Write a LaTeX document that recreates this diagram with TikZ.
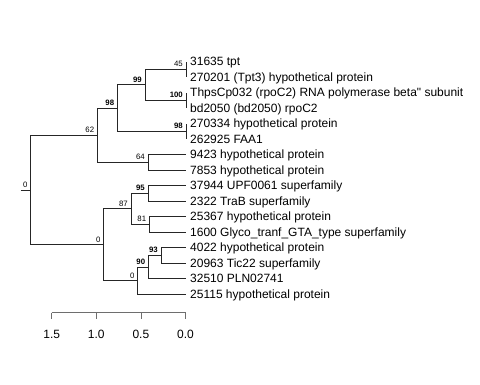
\documentclass[tikz,border=0pt]{standalone}
\usepackage{fontspec}
\setmainfont{Liberation Sans}
\newfontfamily\plainsans{Liberation Sans}
\usetikzlibrary{calc}
\definecolor{treeink}{HTML}{262626}
\definecolor{axisgray}{HTML}{6E6E6E}

\begin{document}
\begin{tikzpicture}[x=1pt,y=-1pt,
  every node/.style={font=\fontsize{12}{14}\selectfont},
  edge/.style={draw=treeink,line width=0.8pt},
  leaf/.style={anchor=west,inner xsep=4pt,inner ysep=0pt,text height=8.6pt,text depth=0pt},
  boot/.style={anchor=south east,inner sep=1pt,xshift=-2pt,yshift=1pt,font=\fontsize{7.8}{8}\selectfont},
  strong/.style={boot,font=\fontsize{7.8}{8}\selectfont\bfseries},
  scaleline/.style={draw=axisgray,line width=0.8pt},
  ticklabel/.style={inner sep=0pt,text height=8.6pt,text depth=0pt}
]
  \useasboundingbox (0,0) rectangle (480,384);
  \coordinate (stub) at (20.7,189.9);
  \coordinate (root) at (30.7,189.9);
  \coordinate (n62) at (97.3,135.1);
  \coordinate (n98) at (117.3,108);
  \coordinate (n99) at (145,84.75);
  \coordinate (n45) at (186,69.25);
  \coordinate (n100) at (186,100.25);
  \coordinate (n98b) at (186,131.25);
  \coordinate (n64) at (148,162.25);
  \coordinate (n0a) at (103.7,244.6);
  \coordinate (n87) at (131,208.75);
  \coordinate (n95) at (148,193.25);
  \coordinate (n81) at (149.3,224.25);
  \coordinate (n0b) at (137.7,280.4);
  \coordinate (n90) at (148.3,266.9);
  \coordinate (n93) at (161,255.25);
  \node[leaf] (l31635) at (186,61.5) {31635 tpt};
  \node[leaf] (l270201) at (186,77) {270201 (Tpt3) hypothetical protein};
  \node[leaf] (lThps) at (186,92.5) {\plainsans ThpsCp032 (rpoC2) RNA polymerase beta" subunit};
  \node[leaf] (lbd2050) at (186,108) {bd2050 (bd2050) rpoC2};
  \node[leaf] (l270334) at (186,123.5) {270334 hypothetical protein};
  \node[leaf] (l262925) at (186,139) {262925 FAA1};
  \node[leaf] (l9423) at (186,154.5) {9423 hypothetical protein};
  \node[leaf] (l7853) at (186,170) {7853 hypothetical protein};
  \node[leaf] (l37944) at (186,185.5) {37944 UPF0061 superfamily};
  \node[leaf] (l2322) at (186,201) {2322 TraB superfamily};
  \node[leaf] (l25367) at (186,216.5) {25367 hypothetical protein};
  \node[leaf] (l1600) at (186,232) {1600 Glyco\_tranf\_GTA\_type superfamily};
  \node[leaf] (l4022) at (186,247.5) {4022 hypothetical protein};
  \node[leaf] (l20963) at (186,263) {20963 Tic22 superfamily};
  \node[leaf] (l32510) at (186,278.5) {32510 PLN02741};
  \node[leaf] (l25115) at (186,294) {25115 hypothetical protein};
  \draw[edge] (stub) -- (root);
  \draw[edge] (root) |- (n62);
  \draw[edge] (root) |- (n0a);
  \draw[edge] (n62) |- (n98);
  \draw[edge] (n62) |- (n64);
  \draw[edge] (n98) |- (n99);
  \draw[edge] (n98) |- (n98b);
  \draw[edge] (n99) |- (n45);
  \draw[edge] (n99) |- (n100);
  \draw[edge] (n45) |- (l31635.west);
  \draw[edge] (n45) |- (l270201.west);
  \draw[edge] (n100) |- (lThps.west);
  \draw[edge] (n100) |- (lbd2050.west);
  \draw[edge] (n98b) |- (l270334.west);
  \draw[edge] (n98b) |- (l262925.west);
  \draw[edge] (n64) |- (l9423.west);
  \draw[edge] (n64) |- (l7853.west);
  \draw[edge] (n0a) |- (n87);
  \draw[edge] (n0a) |- (n0b);
  \draw[edge] (n87) |- (n95);
  \draw[edge] (n87) |- (n81);
  \draw[edge] (n95) |- (l37944.west);
  \draw[edge] (n95) |- (l2322.west);
  \draw[edge] (n81) |- (l25367.west);
  \draw[edge] (n81) |- (l1600.west);
  \draw[edge] (n0b) |- (n90);
  \draw[edge] (n0b) |- (l25115.west);
  \draw[edge] (n90) |- (n93);
  \draw[edge] (n90) |- (l32510.west);
  \draw[edge] (n93) |- (l4022.west);
  \draw[edge] (n93) |- (l20963.west);
  \node[boot] (broot) at (root) {0};
  \node[boot] (b62) at (n62) {62};
  \node[strong] (b98) at (n98) {98};
  \node[strong] (b99) at (n99) {99};
  \node[boot] (b45) at (n45) {45};
  \node[strong] (b100) at (n100) {100};
  \node[strong] (b98b) at (n98b) {98};
  \node[boot] (b64) at (n64) {64};
  \node[boot] (b0a) at (n0a) {0};
  \node[boot] (b87) at (n87) {87};
  \node[strong] (b95) at (n95) {95};
  \node[boot] (b81) at (n81) {81};
  \node[boot] (b0b) at (n0b) {0};
  \node[strong] (b90) at (n90) {90};
  \node[strong] (b93) at (n93) {93};
  \coordinate (ax0) at (185.5,312.7);
  \coordinate (ax15) at (51.7,312.7);
  \draw[scaleline] (ax15) -- (ax0);
  \foreach \k/\lab in {0/0.0,1/0.5,2/1.0,3/1.5} {
    \coordinate (tk\k) at ($(ax0)+(-44.6*\k,0)$);
    \draw[scaleline] (tk\k) -- ++(0,6);
    \node[ticklabel] (lab\k) at ($(tk\k)+(0,21.5)$) {\lab};
  }
\end{tikzpicture}
\end{document}
